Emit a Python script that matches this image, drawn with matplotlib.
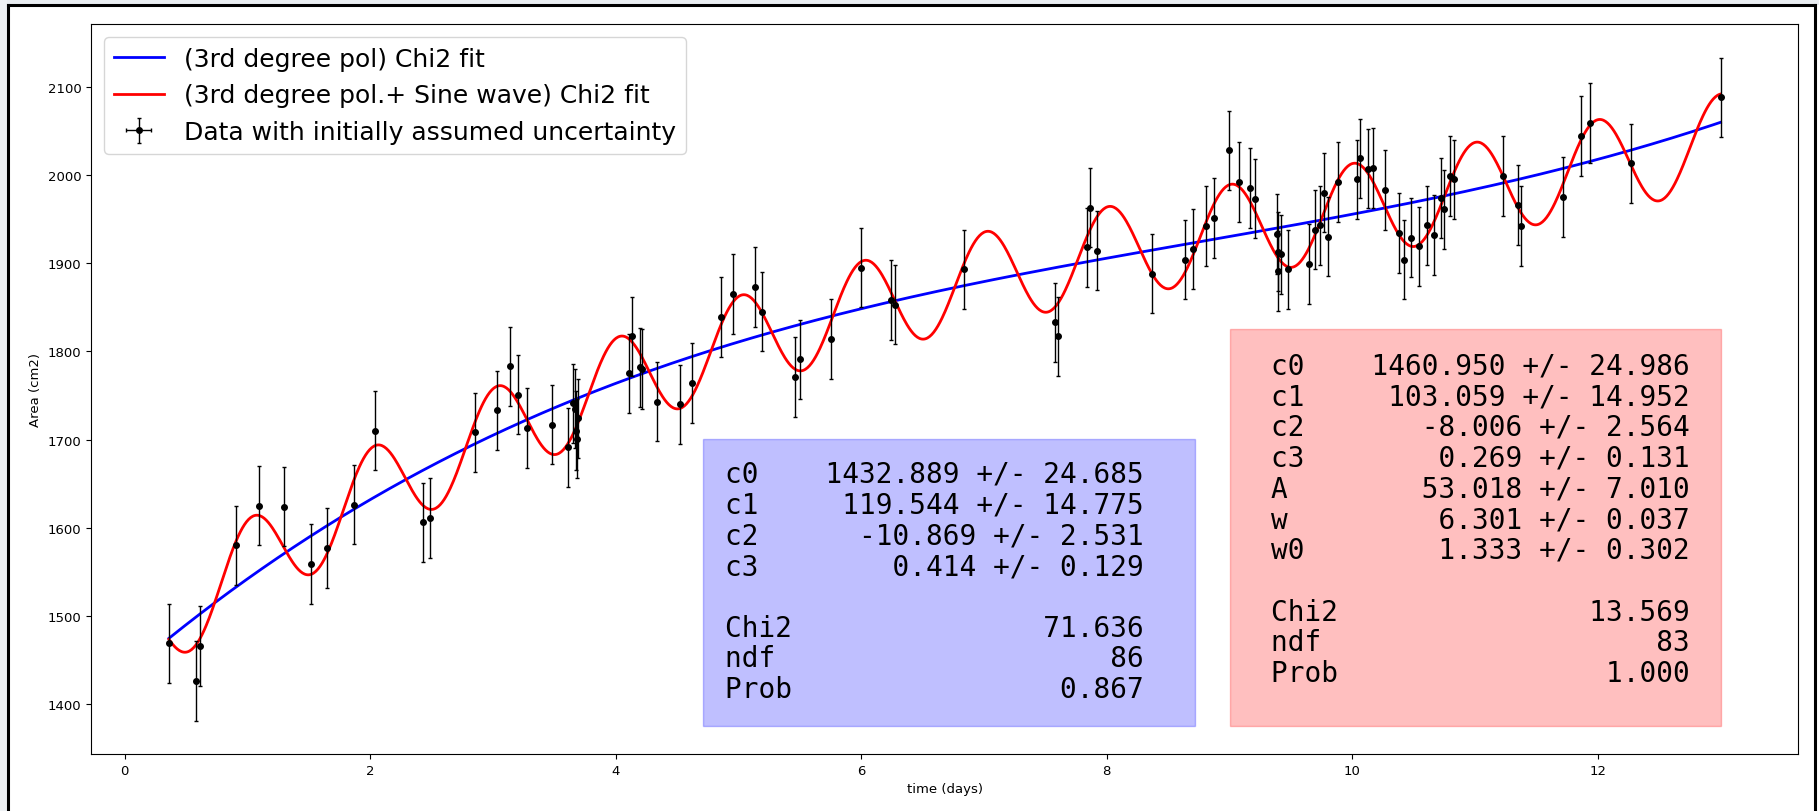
import numpy as np
import matplotlib
matplotlib.use('Agg')
import matplotlib.pyplot as plt
from matplotlib.patches import Rectangle
from matplotlib.lines import Line2D

# Measured area vs. time
time_days = [0.36, 0.58, 0.61, 0.91, 1.09, 1.30, 1.52, 1.65, 1.87, 2.04,
             2.43, 2.49, 2.85, 3.03, 3.14, 3.20, 3.28, 3.48, 3.61, 3.655,
             3.665, 3.675, 3.685, 3.695, 4.11, 4.13, 4.195, 4.215, 4.34, 4.52,
             4.62, 4.86, 4.955, 5.135, 5.195, 5.46, 5.50, 5.75, 6.00, 6.24,
             6.275, 6.84, 7.58, 7.60, 7.84, 7.86, 7.92, 8.37, 8.64, 8.70,
             8.81, 8.87, 9.00, 9.08, 9.165, 9.21, 9.389, 9.392, 9.394, 9.42,
             9.48, 9.65, 9.70, 9.74, 9.77, 9.80, 9.88, 10.04, 10.06, 10.13,
             10.17, 10.27, 10.38, 10.42, 10.48, 10.54, 10.61, 10.67, 10.72, 10.75,
             10.80, 10.83, 11.23, 11.35, 11.375, 11.72, 11.86, 11.935, 12.27, 13.00]
area_cm2 = [1469, 1426, 1466, 1580, 1625, 1624, 1559, 1577, 1626, 1710,
            1606, 1611, 1708, 1733, 1783, 1751, 1713, 1717, 1691, 1741,
            1735, 1710, 1701, 1724, 1775, 1817, 1782, 1780, 1743, 1740,
            1764, 1839, 1865, 1873, 1845, 1771, 1791, 1814, 1895, 1858,
            1853, 1893, 1833, 1817, 1918, 1963, 1914, 1888, 1904, 1916,
            1942, 1951, 2028, 1992, 1985, 1973, 1933, 1891, 1913, 1910,
            1893, 1899, 1938, 1943, 1980, 1930, 1992, 1995, 2019, 2007,
            2008, 1983, 1934, 1904, 1929, 1919, 1943, 1932, 1974, 1961,
            1999, 1995, 1999, 1966, 1942, 1975, 2044, 2059, 2013, 2088]
area_unc = 45.0   # initially assumed uncertainty on every point
time_unc = 0.0

# Chi2 fit results, 3rd degree polynomial
pol_names = ['c0', 'c1', 'c2', 'c3']
pol_values = [1432.889, 119.544, -10.869, 0.414]
pol_errors = [24.685, 14.775, 2.531, 0.129]
pol_stats = ['71.636', '86', '0.867']

# Chi2 fit results, 3rd degree polynomial + sine wave
sin_names = ['c0', 'c1', 'c2', 'c3', 'A', 'w', 'w0']
sin_values = [1460.950, 103.059, -8.006, 0.269, 53.018, 6.301, 1.333]
sin_errors = [24.986, 14.952, 2.564, 0.131, 7.010, 0.037, 0.302]
sin_stats = ['13.569', '83', '1.000']

stat_names = ['Chi2', 'ndf', 'Prob']


def pol3(x, c0, c1, c2, c3):
    return c0 + c1 * x + c2 * x**2 + c3 * x**3


def pol3_sine(x, c0, c1, c2, c3, A, w, w0):
    return pol3(x, c0, c1, c2, c3) + A * np.sin(w * x + w0)


def fit_lines(names, values, errors, stats, width=25):
    lines = []
    for name, val, err in zip(names, values, errors):
        s = f"{val:.3f} +/- {err:.3f}"
        lines.append(f"{name}{s:>{width - len(name)}}")
    lines.append("")
    for name, s in zip(stat_names, stats):
        lines.append(f"{name}{s:>{width - len(name)}}")
    return lines


x = np.array(time_days)
y = np.array(area_cm2)
xs = np.linspace(x.min(), x.max(), 1500)

fig, ax = plt.subplots(figsize=(18.19, 8.12), dpi=100)
fig.subplots_adjust(left=0.0502, right=0.9885, bottom=0.0702, top=0.9686)

ax.plot(xs, pol3(xs, *pol_values), color='b', lw=2, label='(3rd degree pol) Chi2 fit')
ax.plot(xs, pol3_sine(xs, *sin_values), color='r', lw=2,
        label='(3rd degree pol.+ Sine wave) Chi2 fit')
ax.errorbar(x, y, yerr=area_unc, xerr=time_unc, fmt='o', color='k', ms=4,
            elinewidth=1, capsize=1.5, capthick=1,
            label='Data with initially assumed uncertainty')

ax.set_xlabel('time (days)', fontsize=9.5)
ax.set_ylabel('Area (cm2)', fontsize=9.5)
ax.tick_params(labelsize=9.5)
ax.legend(loc='upper left', fontsize=18)

# fit result boxes
step = 0.0422
boxes = [
    (0.3584, 0.6467, 0.4318, 'blue', 0.3713, 0.3733,
     fit_lines(pol_names, pol_values, pol_errors, pol_stats)),
    (0.6672, 0.9549, 0.5826, 'red', 0.6911, 0.5219,
     fit_lines(sin_names, sin_values, sin_errors, sin_stats)),
]
for x0, x1, y1, col, tx, ty, lines in boxes:
    ax.add_patch(Rectangle((x0, 0.0384), x1 - x0, y1 - 0.0384, transform=ax.transAxes,
                           facecolor=col, edgecolor=col, alpha=0.25, lw=1, zorder=5))
    for i, line in enumerate(lines):
        ax.text(tx, ty - i * step, line, transform=ax.transAxes, family='monospace',
                fontsize=20, va='baseline', ha='left', zorder=6)

# outer frame
fig.add_artist(Rectangle((0, 0.9926), 1, 0.0074, transform=fig.transFigure,
                         facecolor='#e9edf1', edgecolor='none'))
fig.add_artist(Rectangle((0, 0), 0.0038, 1, transform=fig.transFigure,
                         facecolor='#eef1f4', edgecolor='none'))
for xy in [([0.0045, 0.0045], [0, 0.9926]),
           ([0.0045, 0.9978], [0.9926, 0.9926]),
           ([0.9978, 0.9978], [0, 0.9926])]:
    fig.add_artist(Line2D(xy[0], xy[1], transform=fig.transFigure, color='k', lw=2.2))

fig.savefig('out.png', dpi=100)
